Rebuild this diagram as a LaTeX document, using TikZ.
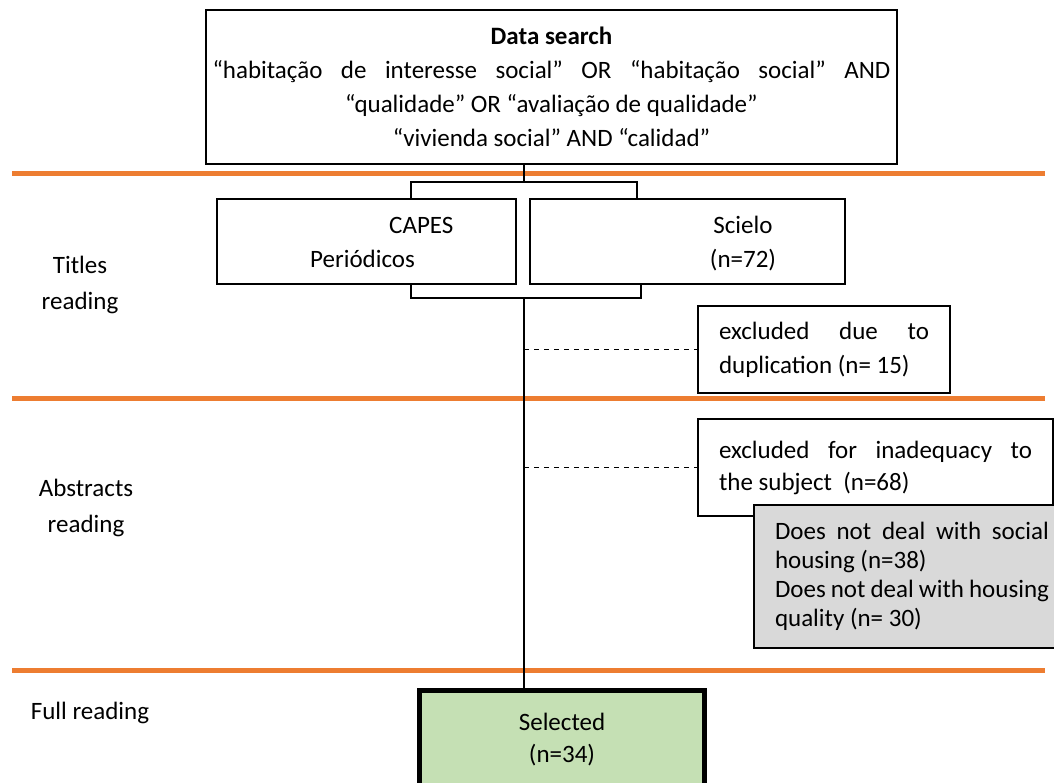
\documentclass[tikz,border=0pt]{standalone}
\usepackage{fontspec}
\setmainfont{Carlito}
\setlength{\parindent}{0pt}
\definecolor{orangeline}{HTML}{ED7D31}
\definecolor{grayfill}{HTML}{D9D9D9}
\definecolor{greenfill}{HTML}{C5E0B4}
\begin{document}
\begin{tikzpicture}[x=1pt,y=-1pt,
  font=\fontsize{25}{31}\selectfont,
  box/.style={draw=black, line width=2pt, rectangle, inner sep=0pt, anchor=north west},
  link/.style={draw=black, line width=2pt},
  dashlink/.style={draw=black, line width=1.5pt, dash pattern=on 5pt off 5pt},
  sep/.style={draw=orangeline, line width=5pt},
  lbl/.style={align=center, inner sep=0pt, font=\fontsize{25}{36}\selectfont},
  txt/.style={inner sep=0pt, anchor=base west}]
\useasboundingbox (0,0) rectangle (1054,782);

% separators
\draw[sep] (12,173) -- (1045,173);
\draw[sep] (12,398) -- (1045,398);
\draw[sep] (12,670) -- (1045,670);

% top box
\node[box, align=center, minimum width=691pt, minimum height=154pt,
      font=\fontsize{25}{34}\selectfont] (search) at (205,9)
  {\textbf{Data search}\\
   \makebox[678pt][s]{“habitação de interesse social” OR “habitação social” AND}\\
   “qualidade” OR “avaliação de qualidade”\\
   “vivienda social” AND “calidad”};

% source boxes
\node[box, minimum width=299pt, minimum height=85pt] (capes) at (216,198) {};
\node[txt] (capesa) at (389,233) {CAPES};
\node[txt] (capesb) at (310,267) {Periódicos};
\node[box, minimum width=315pt, minimum height=85pt] (scielo) at (529,198) {};
\node[lbl, font=\fontsize{25}{34}\selectfont] (scielot) at (743,244) {Scielo\\(n=72)};

% brackets and trunk
\coordinate (jtop) at (524,182);
\coordinate (bl1) at (411,182);
\coordinate (br1) at (637,182);
\coordinate (bl2) at (411,298);
\coordinate (br2) at (641,298);
\coordinate (jbot) at (524,298);
\draw[link] (search.south -| jtop) -- (jtop);
\draw[link] (bl1 |- capes.north) -- (bl1) -- (br1) -- (br1 |- scielo.north);
\draw[link] (bl2 |- capes.south) -- (bl2) -- (br2) -- (br2 |- scielo.south);

% exclusion boxes
\node[box, text width=210pt, inner xsep=21pt, minimum height=87pt, align=justify,
      font=\fontsize{25}{34}\selectfont] (dup) at (697,305)
  {excluded due to\linebreak duplication (n=~15)};
\node[box, text width=313pt, inner xsep=21pt, minimum height=97pt, align=justify,
      font=\fontsize{25}{32}\selectfont] (inad) at (697,418)
  {excluded for inadequacy to\linebreak the subject~~(n=68)};
\node[box, fill=grayfill, text width=274pt, inner xsep=21pt, minimum height=143pt,
      align=justify, font=\fontsize{25}{29}\selectfont] (reasons) at (753,504)
  {Does not deal with social\linebreak housing (n=38)\par
   Does not deal with housing\linebreak quality (n=~30)};

% selected
\node[box, line width=5pt, fill=greenfill, minimum width=285pt, minimum height=98pt,
      align=center, font=\fontsize{25}{32}\selectfont] (selected) at (417,688)
  {Selected\\(n=34)};

\draw[link] (jbot) -- (jbot |- selected.north);
\draw[dashlink] (jbot |- dup.west) -- (dup.west);
\draw[dashlink] (jbot |- inad.west) -- (inad.west);

% stage labels
\node[lbl] (titles) at (80,285) {Titles\\reading};
\node[lbl] (abstracts) at (86,508) {Abstracts\\reading};
\node[lbl] (full) at (90,713) {Full reading};
\end{tikzpicture}
\end{document}
